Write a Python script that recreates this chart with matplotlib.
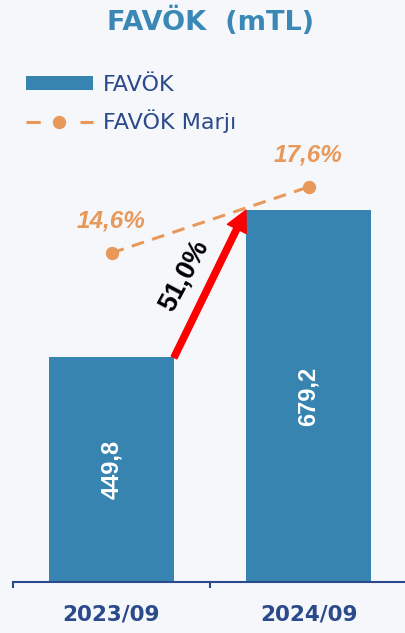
import matplotlib
matplotlib.use("Agg")
import matplotlib.pyplot as plt
from matplotlib.patches import Patch
from matplotlib.lines import Line2D

# ---- data ----
categories = ["2023/09", "2024/09"]
favok = [449.8, 679.2]
favok_labels = ["449,8", "679,2"]
margin = [14.6, 17.6]
margin_labels = ["14,6%", "17,6%"]
growth_label = "51,0%"

# ---- style ----
BAR = "#3784b0"
ORANGE = "#e8995a"
TITLE = "#3a88b6"
NAVY = "#2b4a8b"
BG = "#f5f7fb"

W, H = 405, 633
fig = plt.figure(figsize=(W / 100, H / 100), dpi=100, facecolor=BG)

ax_left, ax_right = 13, 407
ax_bottom, ax_top = 582, 140
ax = fig.add_axes([ax_left / W, 1 - ax_bottom / H, (ax_right - ax_left) / W, (ax_bottom - ax_top) / H])
ax.set_facecolor("none")

x = list(range(len(categories)))
bw = 0.635
ymin = 100
ax.bar(x, favok, width=bw, color=BAR, zorder=2)
ax.set_xlim(-0.5, len(categories) - 0.5)
ax.set_ylim(ymin, ymin + (ax_bottom - ax_top) / 0.642)

for s in ["left", "right", "top"]:
    ax.spines[s].set_visible(False)
ax.spines["bottom"].set_color(NAVY)
ax.spines["bottom"].set_linewidth(1.5)
ax.set_yticks([])
ax.set_xticks(x)
ax.set_xticklabels(categories, fontsize=15.5, fontweight="bold", color=NAVY, family="DejaVu Sans")
ax.tick_params(axis="x", which="major", length=0, pad=16.5)
ax.set_xticks([i - 0.5 for i in range(len(categories) + 1)], minor=True)
ax.tick_params(axis="x", which="minor", length=4.5, width=1.5, color=NAVY, direction="out")

# value labels inside bars
for xi, v, lab in zip(x, favok, favok_labels):
    ax.text(xi, (ymin + v) / 2, lab, rotation=90, ha="center", va="center",
            color="white", fontsize=17, fontweight="bold", family="Liberation Sans", zorder=3)

# growth arrow from bar1 top-right to bar2 top-left
p0 = (x[0] + bw / 2, favok[0])
p1 = (x[1] - bw / 2, favok[1])
ax.annotate("", xy=p1, xytext=p0,
            arrowprops=dict(arrowstyle="simple,head_width=15,head_length=15,tail_width=4.5",
                            mutation_scale=1, color="#ff0000", shrinkA=0, shrinkB=0),
            zorder=4)
mid = ((p0[0] + p1[0]) / 2, (p0[1] + p1[1]) / 2)
ax.annotate(growth_label, xy=mid, xytext=(-19, 6), textcoords="offset points",
            rotation=62, rotation_mode="anchor", ha="center", va="center",
            fontsize=19.5, fontweight="bold", color="black", family="Liberation Sans", zorder=5)

# margin line on secondary axis
ax2 = ax.twinx()
ax2.set_ylim(-0.355, 19.736)
for s in ax2.spines.values():
    s.set_visible(False)
ax2.set_yticks([])
ax2.plot(x, margin, color=ORANGE, lw=2.2, linestyle=(0, (4.2, 2.8)),
         marker="o", markersize=8.6, zorder=3)
for xi, m, lab in zip(x, margin, margin_labels):
    ax2.annotate(lab, xy=(xi, m), xytext=(0, 23), textcoords="offset points",
                 ha="center", va="center", fontsize=17.5, style="italic", fontweight="bold",
                 color=ORANGE, family="Liberation Sans")

# title
fig.text(210.5 / W, 1 - 21 / H, "FAVÖK  (mTL)", ha="center", va="center",
         fontsize=19.5, fontweight="bold", color=TITLE, family="DejaVu Sans")

# legend
h_bar = Patch(facecolor=BAR, edgecolor="none")
h_line = Line2D([0], [0], color=ORANGE, lw=2.2, linestyle=(0, (4.67, 13)),
                marker="o", markersize=8.6)
leg = fig.legend([h_bar, h_line], ["FAVÖK", "FAVÖK Marjı"],
                 loc="upper left", bbox_to_anchor=(26 / W, 1 - 75 / H),
                 frameon=False, borderpad=0, borderaxespad=0,
                 handlelength=3.0, handleheight=0.55, handletextpad=0.45,
                 labelspacing=0.66, prop={"family": "DejaVu Sans", "size": 16},
                 numpoints=1)
for t in leg.get_texts():
    t.set_color(NAVY)

fig.savefig("out.png", dpi=100, facecolor=BG)
